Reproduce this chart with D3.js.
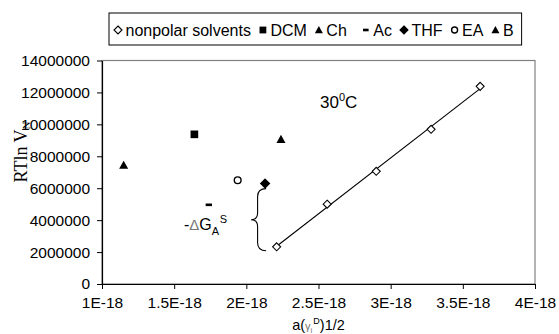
<!doctype html>
<html>
<head>
<meta charset="utf-8">
<script src="https://d3js.org/d3.v7.min.js"></script>
<style>
  body { margin: 0; background: #fff; }
</style>
</head>
<body>
<div id="chart"></div>
<script>

// data
var nonpolarX = [2.21e-18, 2.56e-18, 2.90e-18, 3.28e-18, 3.62e-18];
var nonpolarY = [2330000, 5000000, 7060000, 9690000, 12380000];

var polarNames = ["DCM", "Ch", "Ac", "THF", "EA", "B"];
var polarX = [1.64e-18, 1.15e-18, 1.74e-18, 2.13e-18, 1.94e-18, 2.24e-18];
var polarY = [9375000, 7440000, 4960000, 6290000, 6500000, 9060000];

var legendNames = ["nonpolar solvents", "DCM", "Ch", "Ac", "THF", "EA", "B"];

var xTicks = [1e-18, 1.5e-18, 2e-18, 2.5e-18, 3e-18, 3.5e-18, 4e-18];
var xTickLabels = ["1E-18", "1.5E-18", "2E-18", "2.5E-18", "3E-18", "3.5E-18", "4E-18"];
var yTicks = [0, 2000000, 4000000, 6000000, 8000000, 10000000, 12000000, 14000000];

// marker type for each name
var markerOf = {
  "nonpolar solvents": "diamondOpen",
  "DCM": "square",
  "Ch": "triangle",
  "Ac": "dash",
  "THF": "diamond",
  "EA": "circleOpen",
  "B": "triangle"
};

var sans = "Liberation Sans, Arial, sans-serif";
var W = 559, H = 334;
var plotL = 102, plotR = 535, plotT = 60.5, plotB = 284;

var svg = d3.select("#chart").append("svg")
  .attr("width", W)
  .attr("height", H)
  .attr("font-family", sans);

svg.append("rect").attr("width", W).attr("height", H).attr("fill", "#fff");

var x = d3.scaleLinear().domain([1e-18, 4e-18]).range([plotL, plotR]);
var y = d3.scaleLinear().domain([0, 14000000]).range([plotB, plotT]);

// plot area frame
svg.append("rect")
  .attr("x", plotL).attr("y", plotT)
  .attr("width", plotR - plotL).attr("height", plotB - plotT)
  .attr("fill", "none").attr("stroke", "#808080").attr("stroke-width", 1.2);

// axes
var yAxis = d3.axisLeft(y).tickValues(yTicks).tickSize(5).tickSizeOuter(0)
  .tickFormat(function(d){ return d3.format("d")(d); });
var gy = svg.append("g").attr("transform", "translate(" + plotL + ",0)").call(yAxis);

var xAxis = d3.axisBottom(x).tickValues(xTicks).tickSize(5).tickSizeOuter(0)
  .tickFormat(function(d, i){ return xTickLabels[i]; });
var gx = svg.append("g").attr("transform", "translate(0," + plotB + ")").call(xAxis);

[gx, gy].forEach(function(g){
  g.attr("font-family", sans).attr("font-size", 15.5);
  g.select(".domain").attr("stroke", "#000").attr("stroke-width", 1.2);
  g.selectAll(".tick line").attr("stroke", "#000");
  g.selectAll(".tick text").attr("fill", "#000");
});
gy.selectAll(".tick text").attr("x", -12);
gx.selectAll(".tick text").attr("y", 13);

// marker drawing
function marker(g, type, cx, cy, s) {
  var r = s / 2;
  if (type == "diamondOpen" || type == "diamond") {
    g.append("path")
      .attr("d", "M" + cx + "," + (cy - r) + "L" + (cx + r) + "," + cy + "L" + cx + "," + (cy + r) + "L" + (cx - r) + "," + cy + "Z")
      .attr("fill", type == "diamond" ? "#000" : "#fff")
      .attr("stroke", "#000").attr("stroke-width", 1.1);
  } else if (type == "square") {
    g.append("rect").attr("x", cx - r * 0.85).attr("y", cy - r * 0.85)
      .attr("width", s * 0.85).attr("height", s * 0.85).attr("fill", "#000");
  } else if (type == "triangle") {
    g.append("path")
      .attr("d", "M" + cx + "," + (cy - r) + "L" + (cx + r) + "," + (cy + r * 0.8) + "L" + (cx - r) + "," + (cy + r * 0.8) + "Z")
      .attr("fill", "#000");
  } else if (type == "dash") {
    g.append("rect").attr("x", cx - r * 0.7).attr("y", cy - 1.3)
      .attr("width", s * 0.7).attr("height", 2.6).attr("fill", "#000");
  } else if (type == "circleOpen") {
    g.append("circle").attr("cx", cx).attr("cy", cy).attr("r", r * 0.75)
      .attr("fill", "#fff").attr("stroke", "#000").attr("stroke-width", 1.4);
  }
}

// regression line for nonpolar solvents
var n = nonpolarX.length;
var mx = d3.mean(nonpolarX), my = d3.mean(nonpolarY);
var sxy = 0, sxx = 0;
for (var i = 0; i < n; i++) {
  sxy += (nonpolarX[i] - mx) * (nonpolarY[i] - my);
  sxx += (nonpolarX[i] - mx) * (nonpolarX[i] - mx);
}
var slope = sxy / sxx, icpt = my - slope * mx;
var x0 = d3.min(nonpolarX), x1 = d3.max(nonpolarX);
svg.append("line")
  .attr("x1", x(x0)).attr("y1", y(icpt + slope * x0))
  .attr("x2", x(x1)).attr("y2", y(icpt + slope * x1))
  .attr("stroke", "#000").attr("stroke-width", 1.1);

var pts = svg.append("g");
for (var i = 0; i < n; i++) {
  marker(pts, "diamondOpen", x(nonpolarX[i]), y(nonpolarY[i]), 8);
}
for (var i = 0; i < polarNames.length; i++) {
  marker(pts, markerOf[polarNames[i]], x(polarX[i]), y(polarY[i]), 9);
}

// brace between THF and the nonpolar line
var bx = x(polarX[3]) + 1;
var by0 = y(polarY[3]) + 5, by1 = y(nonpolarY[0]) + 4;
var bm = (by0 + by1) / 2;
var bv = bx - 8.5, bt = bx - 15;
svg.append("path")
  .attr("d", "M" + bx + "," + by0 + "Q" + bv + "," + by0 + " " + bv + "," + (by0 + 8) +
             "L" + bv + "," + (bm - 7) + "Q" + bv + "," + bm + " " + bt + "," + bm +
             "Q" + bv + "," + bm + " " + bv + "," + (bm + 7) +
             "L" + bv + "," + (by1 - 8) + "Q" + bv + "," + by1 + " " + bx + "," + by1)
  .attr("fill", "none").attr("stroke", "#000").attr("stroke-width", 1.1);

// -ΔG_A^S label
var dg = svg.append("text").attr("x", 184).attr("y", 230).attr("font-size", 16).attr("fill", "#000");
dg.append("tspan").text("-");
dg.append("tspan").attr("fill", "#777").attr("font-size", 15).text("\u0394");
dg.append("tspan").text("G");
dg.append("tspan").attr("font-size", 11).attr("dy", 5).text("A");
dg.append("tspan").attr("font-size", 11).attr("dy", -12).attr("dx", 0.5).text("S");

// 30°C
var tc = svg.append("text").attr("x", 320).attr("y", 108).attr("font-size", 17).attr("fill", "#000");
tc.append("tspan").text("30");
tc.append("tspan").attr("font-size", 11).attr("dy", -7).text("0");
tc.append("tspan").attr("dy", 7).text("C");

// axis titles
var xt = svg.append("text").attr("x", (plotL + plotR) / 2).attr("y", 330)
  .attr("text-anchor", "middle").attr("font-size", 14.5).attr("fill", "#000");
xt.append("tspan").text("a(");
xt.append("tspan").attr("fill", "#777").attr("font-size", 11).text("\u03b3");
xt.append("tspan").attr("font-size", 8).attr("dy", 3).attr("fill", "#777").text("i");
xt.append("tspan").attr("font-size", 9).attr("dy", -9).attr("dx", 1).text("D");
xt.append("tspan").attr("dy", 6).text(")1/2");

var yt = svg.append("text")
  .attr("transform", "translate(27,152) rotate(-90)")
  .attr("text-anchor", "middle")
  .attr("font-family", "Liberation Serif, Times New Roman, serif")
  .attr("font-size", 18).attr("fill", "#000");
yt.append("tspan").text("RTln V");
yt.append("tspan").attr("font-size", 11).attr("dy", 3).text("N");

// legend
var lg = svg.append("g");
var lbox = lg.append("rect").attr("x", 109).attr("y", 13).attr("height", 32)
  .attr("fill", "#fff").attr("stroke", "#000").attr("stroke-width", 1);
var cx = 118;
legendNames.forEach(function(name, i){
  marker(lg, markerOf[name], cx, 30, 8);
  var t = lg.append("text").attr("x", cx + 7.5).attr("y", 35.5)
    .attr("font-size", 16).attr("fill", "#000").text(name);
  var w = t.node().getComputedTextLength();
  cx = cx + 7.5 + w + (name == "Ch" ? 19 : 12);
});
lbox.attr("width", cx - 12 + 8 - 109);

</script>
</body>
</html>
